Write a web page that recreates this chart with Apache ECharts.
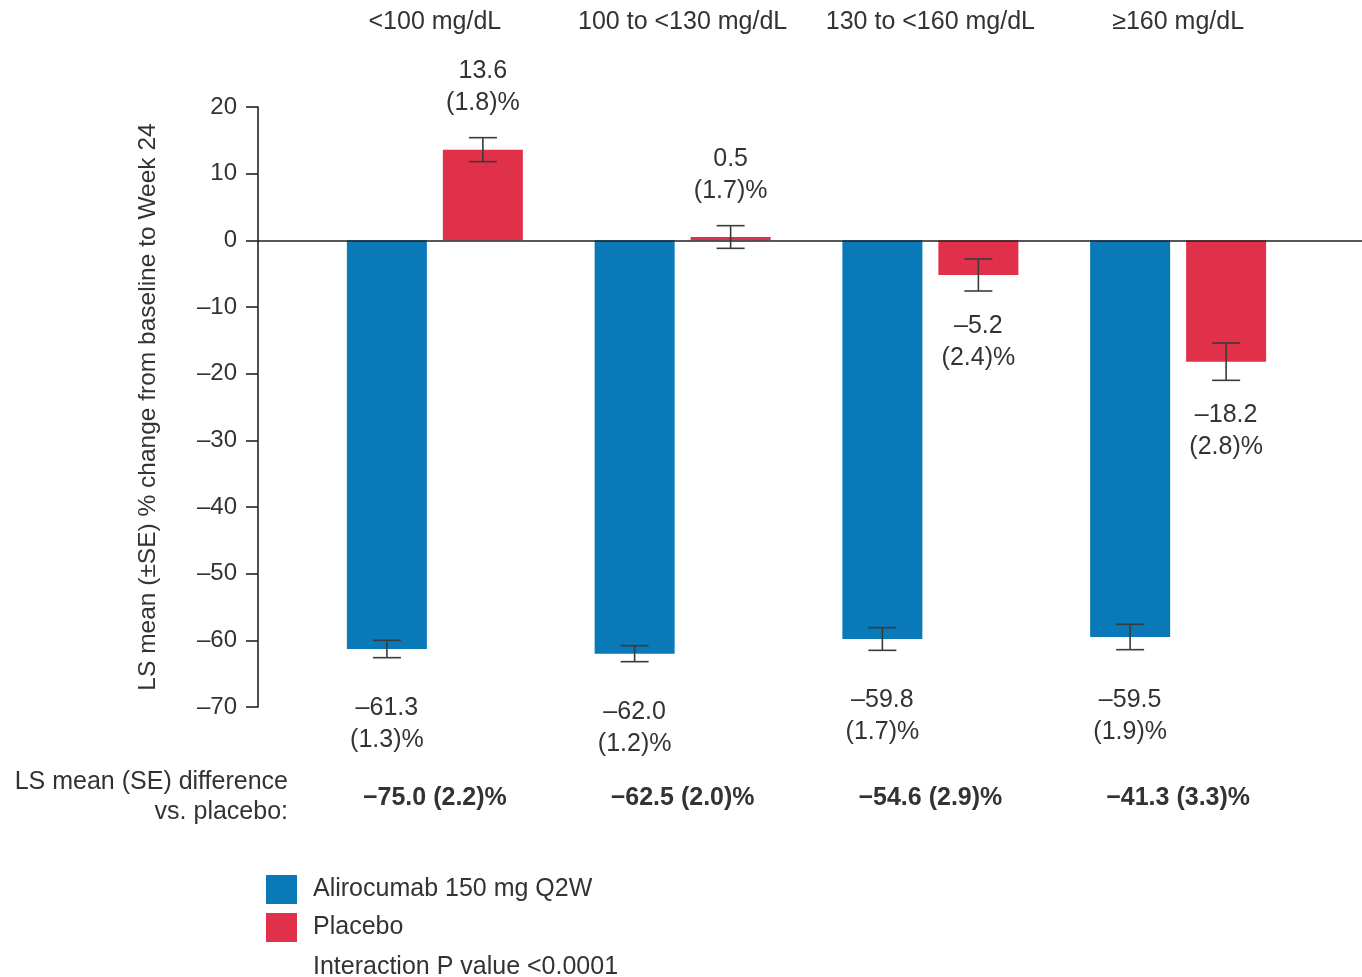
<!DOCTYPE html>
<html>
<head>
<meta charset="utf-8">
<script src="https://cdn.jsdelivr.net/npm/echarts@6/dist/echarts.min.js"></script>
<style>
  html, body { margin: 0; padding: 0; background: #fff; }
  #chart { width: 1362px; height: 977px; }
</style>
</head>
<body>
<div id="chart"></div>
<script>
// Baseline LDL-C subgroups
const categories = ['<100 mg/dL', '100 to <130 mg/dL', '130 to <160 mg/dL', '≥160 mg/dL'];
// LS mean % change from baseline to week 24 and its SE
const alirocumabMean = [-61.3, -62.0, -59.8, -59.5];
const alirocumabSE = [1.3, 1.2, 1.7, 1.9];
const placeboMean = [13.6, 0.5, -5.2, -18.2];
const placeboSE = [1.8, 1.7, 2.4, 2.8];
// Difference vs. placebo
const diffMean = [-75.0, -62.5, -54.6, -41.3];
const diffSE = [2.2, 2.0, 2.9, 3.3];
// Y-axis ticks
const yTicks = [20, 10, 0, -10, -20, -30, -40, -50, -60, -70];

const FONT = '"Liberation Sans", Arial, Helvetica, sans-serif';
const FS = 25;
const TEXT = '#333333';
const BLUE = '#0a79b8';
const RED = '#e1314a';

const dash = v => (v < 0 ? '\u2013' + Math.abs(v).toFixed(1) : v.toFixed(1));
const diffLabels = diffMean.map((m, i) => '\u2212' + Math.abs(m).toFixed(1) + ' (' + diffSE[i].toFixed(1) + ')%');

// Error bar plus value label for one bar of each group
function errorRenderer(dx, gap) {
  return function (params, api) {
    const idx = api.value(0), v = api.value(1), se = api.value(2);
    const cx = api.coord([idx, 0])[0] + dx;
    const yHi = api.coord([idx, v + se])[1];
    const yLo = api.coord([idx, v - se])[1];
    const half = 14;
    const line = { stroke: '#3a3a3a', lineWidth: 1.6 };
    const label = dash(v) + '\n(' + se.toFixed(1) + ')%';
    const up = v >= 0;
    return {
      type: 'group',
      children: [
        { type: 'line', shape: { x1: cx, y1: yHi, x2: cx, y2: yLo }, style: line },
        { type: 'line', shape: { x1: cx - half, y1: yHi, x2: cx + half, y2: yHi }, style: line },
        { type: 'line', shape: { x1: cx - half, y1: yLo, x2: cx + half, y2: yLo }, style: line },
        {
          type: 'text',
          x: cx,
          y: up ? yHi - gap : yLo + gap,
          style: {
            text: label,
            font: FS + 'px ' + FONT,
            fill: TEXT,
            align: 'center',
            verticalAlign: up ? 'bottom' : 'top',
            lineHeight: 32
          }
        }
      ]
    };
  };
}

const chart = echarts.init(document.getElementById('chart'));
chart.setOption({
  animation: false,
  backgroundColor: '#ffffff',
  textStyle: { fontFamily: FONT, color: TEXT },
  grid: [
    { left: 311, right: 60, top: 107, height: 600 },
    { left: 258, right: 0, top: 107, height: 600 }
  ],
  legend: {
    orient: 'vertical',
    left: 261,
    top: 870,
    itemWidth: 31,
    itemHeight: 29,
    itemGap: 9,
    icon: 'rect',
    textStyle: { fontSize: FS, color: TEXT, fontFamily: FONT, padding: [3, 0, 0, 11] },
    data: ['Alirocumab 150 mg Q2W', 'Placebo']
  },
  xAxis: [
    {
      type: 'category', gridIndex: 0, position: 'top', data: categories,
      axisLine: { show: false, onZero: false }, axisTick: { show: false },
      axisLabel: { interval: 0, fontSize: FS, color: TEXT, margin: 72, fontFamily: FONT }
    },
    {
      type: 'category', gridIndex: 0, position: 'bottom', data: diffLabels,
      axisLine: { show: false, onZero: false }, axisTick: { show: false },
      axisLabel: { interval: 0, fontSize: FS, fontWeight: 'bold', color: TEXT, margin: 79, fontFamily: FONT }
    },
    {
      type: 'category', gridIndex: 1, data: [''],
      axisLine: { show: true, onZero: true, lineStyle: { color: '#222', width: 1.6 } },
      axisTick: { show: false }, axisLabel: { show: false }, z: 5
    }
  ],
  yAxis: [
    {
      type: 'value', gridIndex: 0, min: -70, max: 20, interval: 10, offset: 53,
      name: 'LS mean (\u00b1SE) % change from baseline to Week 24',
      nameLocation: 'middle', nameGap: 97,
      nameTextStyle: { fontSize: 24.5, color: TEXT, fontFamily: FONT },
      axisLine: { show: true, lineStyle: { color: '#222', width: 1.6 } },
      axisTick: { show: true, length: 12, inside: false, lineStyle: { color: '#222', width: 1.6 } },
      axisLabel: {
        fontSize: 24, color: TEXT, margin: 21, fontFamily: FONT,
        formatter: v => (yTicks.indexOf(v) >= 0 ? (v < 0 ? '\u2013' + Math.abs(v) : String(v)) : '')
      },
      splitLine: { show: false }
    },
    {
      type: 'value', gridIndex: 1, min: -70, max: 20, interval: 10,
      show: false, splitLine: { show: false }
    }
  ],
  series: [
    {
      name: 'Alirocumab 150 mg Q2W', type: 'bar', xAxisIndex: 0, yAxisIndex: 0,
      data: alirocumabMean, barWidth: 80, barGap: '20%',
      itemStyle: { color: BLUE }
    },
    {
      name: 'Placebo', type: 'bar', xAxisIndex: 0, yAxisIndex: 0,
      data: placeboMean, barWidth: 80, barGap: '20%',
      itemStyle: { color: RED }
    },
    {
      type: 'custom', xAxisIndex: 0, yAxisIndex: 0, z: 10, clip: false,
      renderItem: errorRenderer(-48, 34),
      data: alirocumabMean.map((m, i) => [i, m, alirocumabSE[i]])
    },
    {
      type: 'custom', xAxisIndex: 0, yAxisIndex: 0, z: 10, clip: false,
      renderItem: errorRenderer(48, 19),
      data: placeboMean.map((m, i) => [i, m, placeboSE[i]])
    }
  ],
  graphic: [
    {
      type: 'text', x: 288, y: 767,
      style: {
        text: 'LS mean (SE) difference\nvs. placebo:',
        font: FS + 'px ' + FONT, fill: TEXT, align: 'right', verticalAlign: 'top', lineHeight: 30
      }
    },
    {
      type: 'text', x: 313, y: 955,
      style: { text: 'Interaction P value <0.0001', font: FS + 'px ' + FONT, fill: TEXT, verticalAlign: 'top' }
    }
  ]
});
</script>
</body>
</html>
